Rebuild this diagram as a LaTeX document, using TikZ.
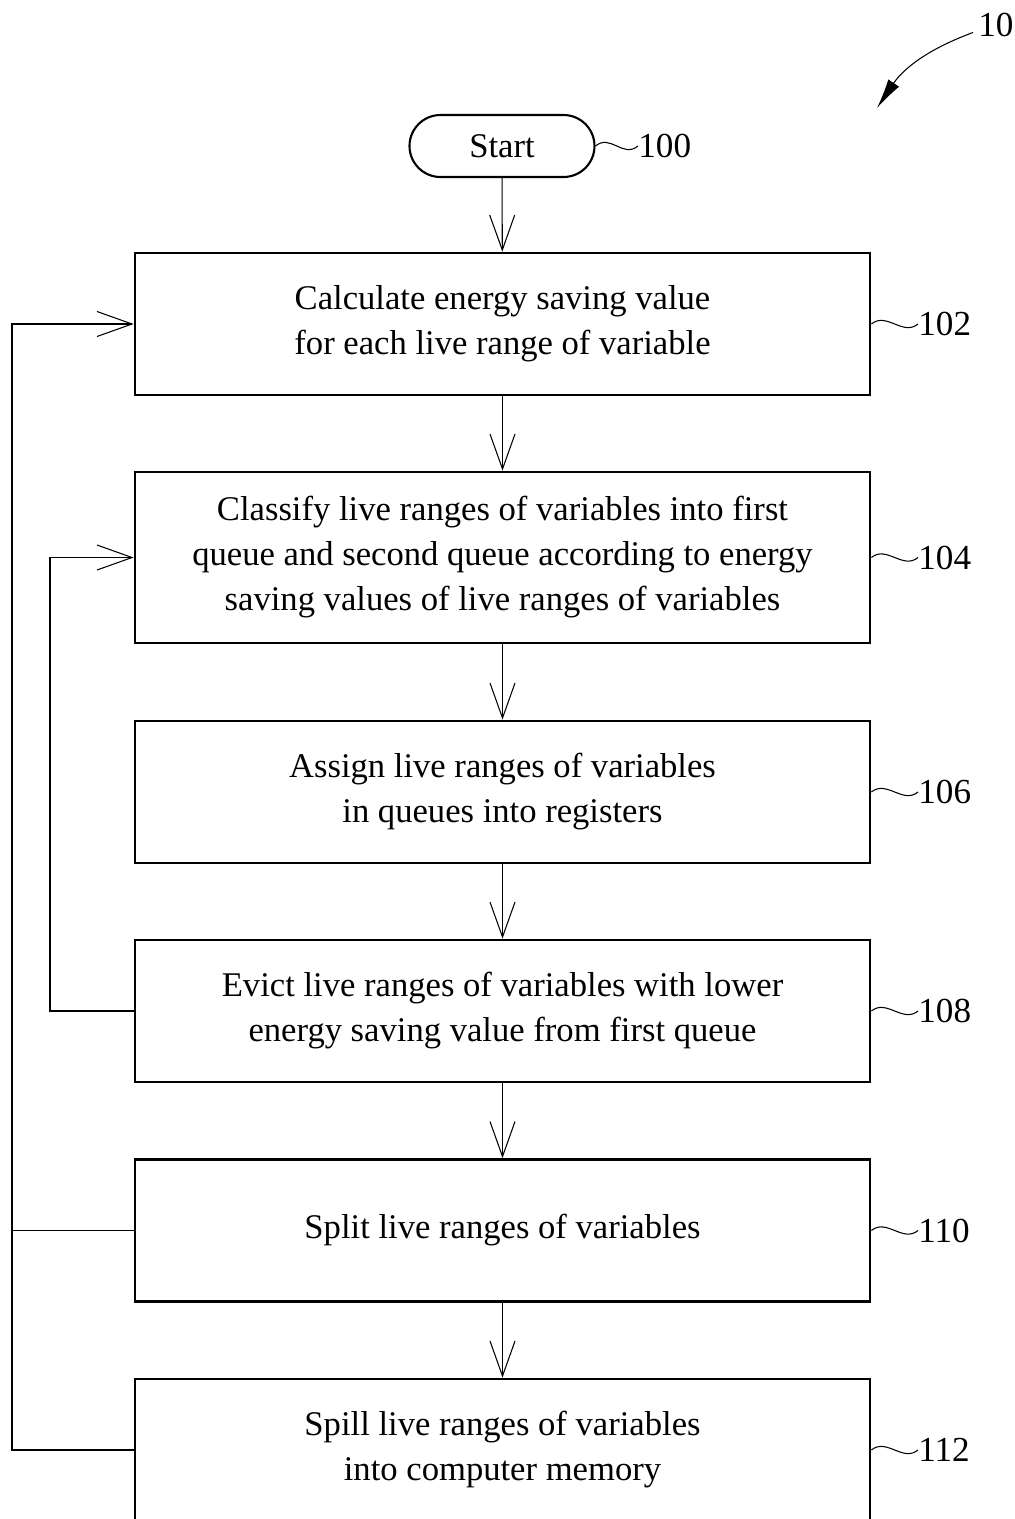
\documentclass[tikz,border=0pt]{standalone}
\usepackage{fontspec}
\setmainfont{Liberation Serif}
\usetikzlibrary{arrows.meta}
\tikzset{
    stepbox/.style={draw, line width=1.6pt, minimum width=14.7cm, minimum height=2.84cm,
        align=center, font=\fontsize{19.7}{25.6}\selectfont},
    termbox/.style={draw, line width=1.2pt, rounded corners=0.62cm, minimum width=3.7cm,
        minimum height=1.24cm, font=\fontsize{19.7}{25.6}\selectfont},
    flow/.style={-{Straight Barb[length=0.7cm, width=0.5cm]}, line width=0.6pt},
    tag/.style={font=\fontsize{20}{22}\selectfont, inner sep=0pt, anchor=west},
    wave/.style={line width=0.6pt}
}
\begin{document}
\begin{tikzpicture}
        \useasboundingbox (0, 0) rectangle (20.3, -30.38);
        \node[termbox] (start) at (10.04, -2.92) {Start};
        \node[stepbox] (calc) at (10.05, -6.48) {Calculate energy saving value\\for each live range of variable};
        \node[stepbox, minimum height=3.42cm] (classify) at (10.05, -11.15) {Classify live ranges of variables into first\\queue and second queue according to energy\\saving values of live ranges of variables};
        \node[stepbox] (assign) at (10.05, -15.84) {Assign live ranges of variables\\in queues into registers};
        \node[stepbox] (evict) at (10.05, -20.22) {Evict live ranges of variables with lower\\energy saving value from first queue};
        \node[stepbox] (split) at (10.05, -24.61) {Split live ranges of variables};
        \node[stepbox] (spill) at (10.05, -29.00) {Spill live ranges of variables\\into computer memory};

        % reference numerals
        \node[tag] (t100) at (12.76, -2.92) {100};
        \node[tag] (t102) at (18.36, -6.48) {102};
        \node[tag] (t104) at (18.36, -11.15) {104};
        \node[tag] (t106) at (18.36, -15.84) {106};
        \node[tag] (t108) at (18.36, -20.22) {108};
        \node[tag] (t110) at (18.36, -24.61) {110};
        \node[tag] (t112) at (18.36, -29.00) {112};
        \node[tag] (fig) at (19.56, -0.5) {10};
        \coordinate (figtip) at (17.54, -2.16);

        \draw[wave] (start.east) .. controls +(0.3, 0.25) and +(-0.3, -0.25) .. (t100.west);
        \foreach \b/\t in {calc/t102, classify/t104, assign/t106, evict/t108, split/t110, spill/t112}
            \draw[wave] (\b.east) .. controls +(0.3, 0.25) and +(-0.3, -0.25) .. (\t.west);
        \draw[-{Latex[length=0.6cm, width=0.26cm]}, line width=0.6pt] (fig.west) ++(-0.1, -0.15) to[bend right=18] (figtip);

        % main flow
        \draw[flow] (start) -- (calc);
        \draw[flow] (calc) -- (classify);
        \draw[flow] (classify) -- (assign);
        \draw[flow] (assign) -- (evict);
        \draw[flow] (evict) -- (split);
        \draw[flow] (split) -- (spill);

        % loops back
        \coordinate (outer) at (0.24, 0);
        \coordinate (inner) at (1.0, 0);
        \draw[line width=0.6pt] (spill.west) -- (spill.west -| outer) -- (split.west -| outer);
        \draw[flow] (split.west) -- (split.west -| outer) |- (calc.west);
        \draw[flow] (evict.west) -- (evict.west -| inner) |- (classify.west);
    \end{tikzpicture}
\end{document}
